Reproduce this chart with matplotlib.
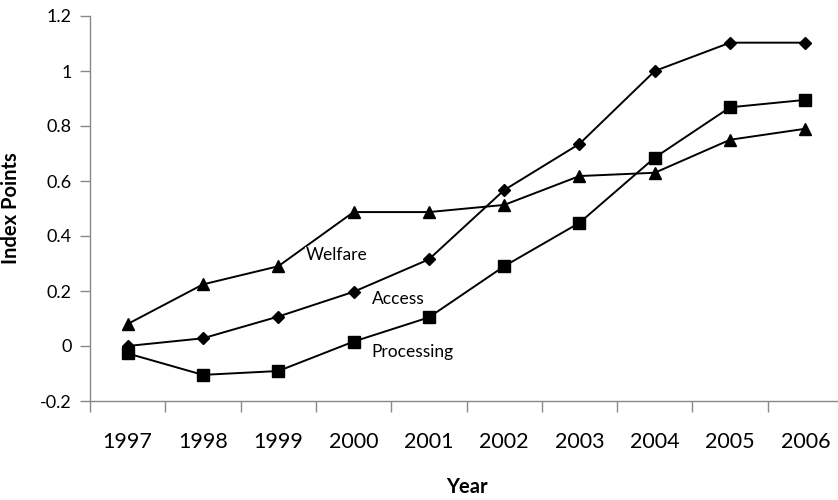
import matplotlib
matplotlib.use("Agg")
import matplotlib.pyplot as plt
import numpy as np

years = ["1997", "1998", "1999", "2000", "2001", "2002", "2003", "2004", "2005", "2006"]
welfare = [0.08, 0.224, 0.29, 0.487, 0.487, 0.513, 0.618, 0.63, 0.75, 0.79]
access = [0.0, 0.028, 0.107, 0.197, 0.315, 0.567, 0.735, 1.0, 1.103, 1.103]
processing = [-0.027, -0.105, -0.091, 0.016, 0.104, 0.29, 0.448, 0.685, 0.868, 0.895]
yticks = [-0.2, 0, 0.2, 0.4, 0.6, 0.8, 1, 1.2]
ytick_labels = ["-0.2", "0", "0.2", "0.4", "0.6", "0.8", "1", "1.2"]

plt.rcParams['font.family'] = ['Lato', 'DejaVu Sans']
grey = '#898989'

fig = plt.figure(figsize=(8.38, 5), dpi=100)
ax = fig.add_axes([0.1074, 0.198, 0.8986, 0.77])

x = np.arange(len(years))
lw = 1.4
ax.plot(x, welfare, color='black', lw=lw, marker='^', markersize=9, zorder=3)
ax.plot(x, access, color='black', lw=lw, marker='D', markersize=6.5, zorder=3)
ax.plot(x, processing, color='black', lw=lw, marker='s', markersize=8.5, zorder=3)

box = dict(facecolor='white', edgecolor='none', pad=0.5)
ax.text(2.37, 0.33, "Welfare", fontsize=12.5, va='center', ha='left', bbox=box, zorder=4)
ax.text(3.24, 0.17, "Access", fontsize=12.5, va='center', ha='left', bbox=box, zorder=4)
ax.text(3.24, -0.02, "Processing", fontsize=12.5, va='center', ha='left', bbox=box, zorder=4)

ax.set_xlim(-0.5, len(years) - 0.5)
ax.set_ylim(-0.2, 1.2)
ax.set_yticks(yticks)
ax.set_yticklabels(ytick_labels, fontsize=13)

ax.set_xticks(np.arange(len(years) + 1) - 0.5)
ax.set_xticklabels([])
ax.set_xticks(x, minor=True)
ax.set_xticklabels(years, minor=True, fontsize=15.5)
ax.tick_params(axis='x', which='major', length=8, color=grey, width=1)
ax.tick_params(axis='x', which='minor', length=0, pad=22)
ax.tick_params(axis='y', length=7, color=grey, width=1, pad=6)

for s in ['top', 'right']:
    ax.spines[s].set_visible(False)
for s in ['left', 'bottom']:
    ax.spines[s].set_color(grey)
    ax.spines[s].set_linewidth(1)

ax.set_ylabel("Index Points", fontsize=14.5, fontweight='bold', labelpad=14)
ax.set_xlabel("Year", fontsize=14.5, fontweight='bold', labelpad=18)

fig.savefig("out.png", dpi=100)
